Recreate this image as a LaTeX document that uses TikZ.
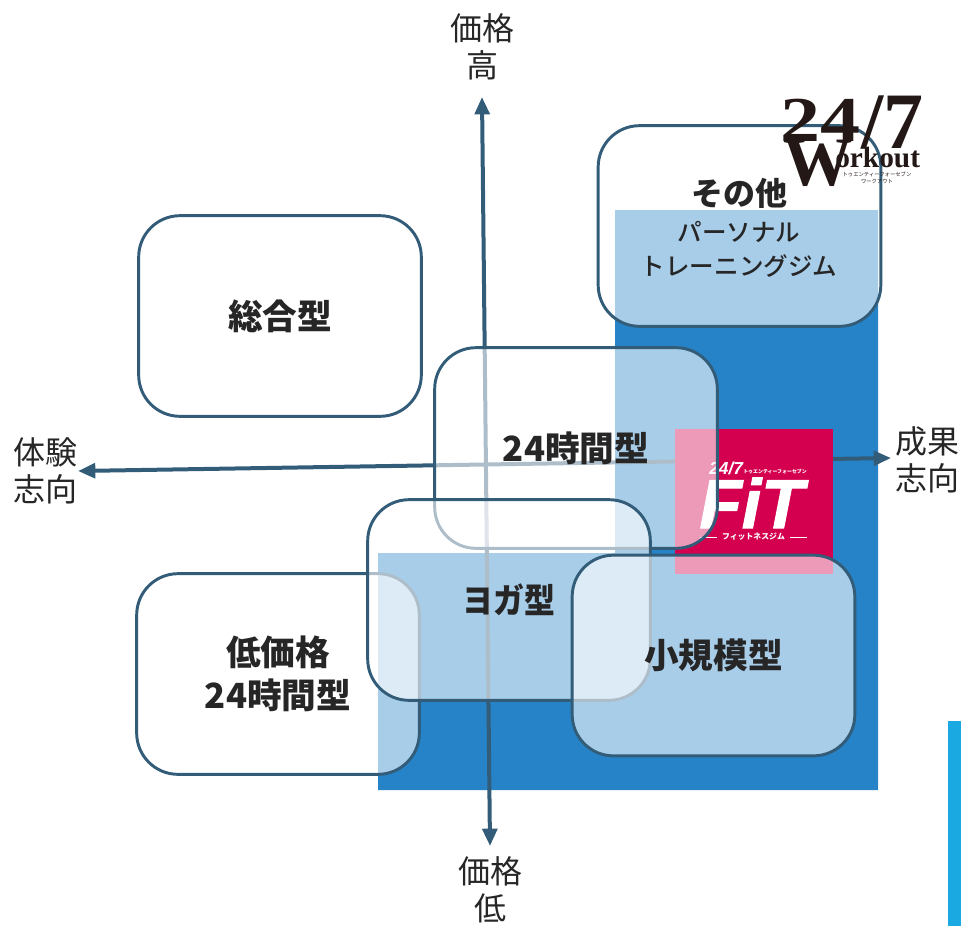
\documentclass[tikz,border=0pt]{standalone}
\usepackage{graphicx}
\usepackage{fontspec}
\setmainfont{Noto Sans CJK JP}
\newfontfamily\cjkmed{Noto Sans CJK JP Medium}
\newfontfamily\logoserif{Liberation Serif}
\newfontfamily\logosans{Liberation Sans}
\newfontfamily\fitfont[BoldItalicFeatures={FakeBold=1.6}]{Liberation Sans}
\usetikzlibrary{arrows.meta}
\definecolor{axisc}{HTML}{325C78}
\definecolor{blueb}{HTML}{2683C8}
\definecolor{fitred}{HTML}{D4004F}
\definecolor{inkc}{HTML}{262626}
\definecolor{logoink}{HTML}{231815}
\definecolor{cyanbar}{HTML}{1BA9E1}
\tikzset{
  axisline/.style={draw=axisc,line width=3pt,{Triangle[length=13pt,width=11pt]}-{Triangle[length=13pt,width=11pt]}},
  catbox/.style={draw=axisc,line width=2.2pt,fill=white,fill opacity=0.6,draw opacity=1,text opacity=1,
    rounded corners=31pt,minimum width=212pt,minimum height=150.5pt,inner sep=0pt,text=inkc,
    font=\fontsize{26}{32.5}\selectfont\bfseries,align=center},
  axislabel/.style={text=inkc,font=\fontsize{24}{27.8}\selectfont,align=center,inner sep=0pt},
  catlabel/.style={text=inkc,inner sep=0pt,align=center},
  logotext/.style={text=logoink,inner sep=0pt,anchor=base west},
  fitwhite/.style={text=white,inner sep=0pt},
  fitrule/.style={draw=white,line width=0.9pt},
}
\begin{document}
\begin{tikzpicture}[x=0.75pt,y=-0.75pt]
\useasboundingbox (0,0) rectangle (961,926);
% background shapes
\fill[blueb] (615,210) -- (878,210) -- (878,790) -- (378,790) -- (378,553) -- (615,553) -- cycle;
\fill[cyanbar] (948,721) rectangle (961,926);
% axes
\coordinate (vlow) at (490,846);
\coordinate (vhigh) at (482,97);
\coordinate (hleft) at (78,471);
\coordinate (hright) at (891,458);
\draw[axisline] (hleft) -- (hright);
\draw[axisline] (vlow) -- (vhigh);
% FIT logo
\fill[fitred] (675,429) rectangle (833,574);
\node[fitwhite,font=\logosans\fontsize{13}{13}\selectfont\bfseries\itshape,anchor=base west] (fit247) at (709,474) {24/7};
\node[fitwhite,font=\fontsize{3.7}{4}\selectfont\bfseries,anchor=base west] (fitkana) at (743,473) {トゥエンティーフォーセブン};
\node[fitwhite,font=\fitfont\fontsize{52}{52}\selectfont\bfseries\itshape,anchor=base] (fitword) at (751.5,528) {FiT};
\node[fitwhite,font=\fontsize{5.9}{7}\selectfont\bfseries] (fitsub) at (753.5,537) {フィットネスジム};
\coordinate (fitrulea) at (700,537.5);
\coordinate (fitruleb) at (717,537.5);
\coordinate (fitrulec) at (790,537.5);
\coordinate (fitruled) at (807,537.5);
\draw[fitrule] (fitrulea) -- (fitruleb);
\draw[fitrule] (fitrulec) -- (fitruled);
% boxes
\node[catbox] (sogo) at (280,316) {\raisebox{-1.5pt}{総合型}};
\node[catbox] (h24) at (576,448) {24時間型};
\node[catbox] (low) at (278,674) {低価格\\24時間型};
\node[catbox] (yoga) at (509,600) {\scalebox{0.89}[1]{ヨガ型}};
\node[catbox] (small) at (713.5,655.5) {小規模型};
\node[catbox] (other) at (739.5,226) {};
\node[catlabel,font=\fontsize{24}{30}\selectfont\bfseries] (otherlabel) at (739,193) {その他};
\node[catlabel,font=\cjkmed\fontsize{18.4}{25.5}\selectfont] (personal) at (739,249) {パーソナル\\トレーニングジム};
% axis labels
\node[axislabel] (high) at (482,47) {価格\\高};
\node[axislabel] (lowp) at (490,890) {価格\\低};
\node[axislabel] (exp) at (45,471) {体験\\志向};
\node[axislabel] (res) at (927,460) {成果\\志向};
% 24/7 Workout logo
\node[logotext,font=\logoserif\fontsize{48}{48}\selectfont\bfseries] (l24) at (780,141) {\scalebox{1.25}[1]{24}};
\node[logotext,font=\logoserif\fontsize{60}{60}\selectfont\bfseries] (l7) at (861,148) {/7};
\node[logotext,font=\logoserif\fontsize{52}{52}\selectfont\bfseries] (lw) at (783,185) {W};
\node[logotext,font=\logoserif\fontsize{22}{22}\selectfont\bfseries] (lork) at (835,167) {orkout};
\node[text=logoink,inner sep=0pt,font=\fontsize{4}{5}\selectfont] (lkana1) at (877,174) {トゥエンティーフォーセブン};
\node[text=logoink,inner sep=0pt,font=\fontsize{4}{5}\selectfont] (lkana2) at (877,181) {ワークアウト};
\end{tikzpicture}
\end{document}
